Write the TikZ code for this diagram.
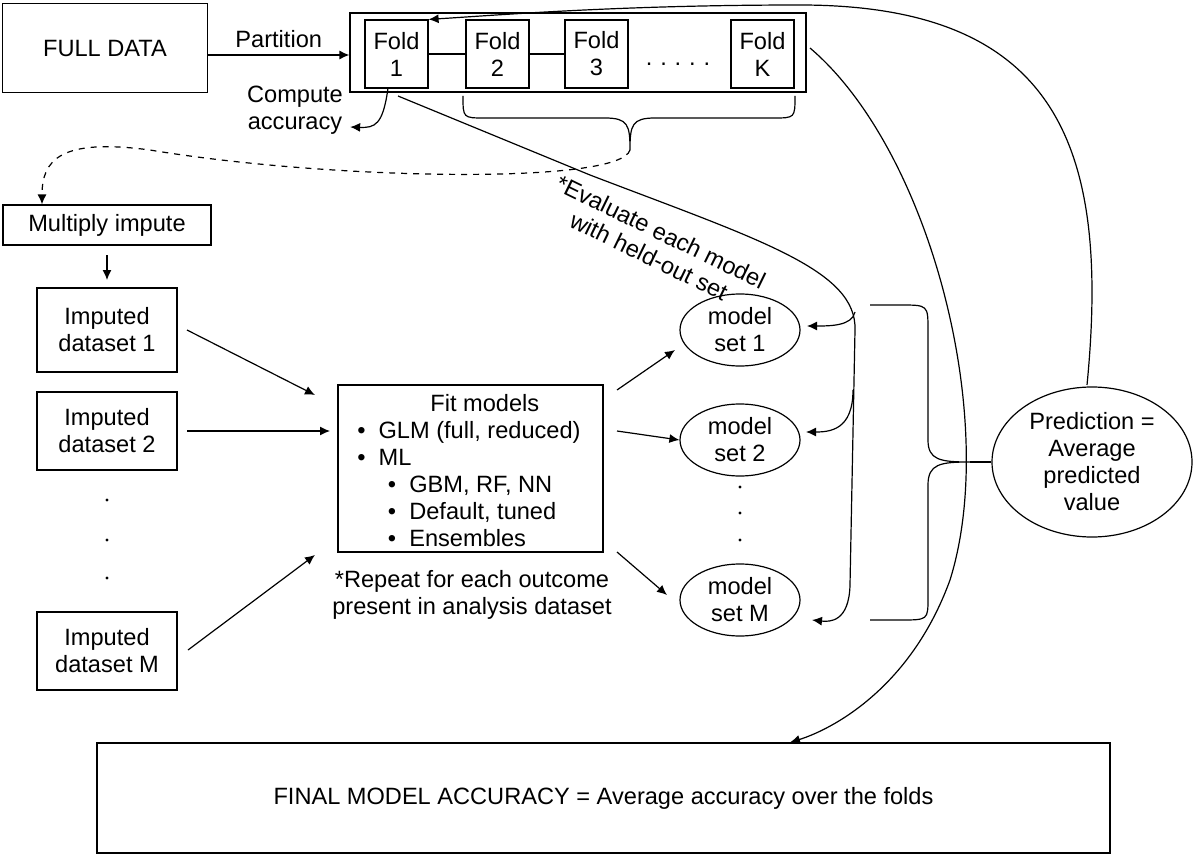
\documentclass[tikz,border=0pt]{standalone}
\usepackage{fontspec}
\setmainfont{Liberation Sans}
\usetikzlibrary{shapes.geometric,arrows.meta}

\begin{document}
\begin{tikzpicture}[x=0.5pt,y=-0.5pt,line width=0.6pt,
    font=\fontsize{11.8}{13.5}\selectfont,
    box/.style={draw, rectangle, inner sep=0pt, align=center},
    fold/.style={box, minimum width=31.5pt, minimum height=34pt},
    oval/.style={draw, ellipse, inner sep=0pt, align=center},
    arr/.style={-{Latex[length=5pt,width=4.5pt]}},
    vdots/.style={circle, fill, inner sep=0.6pt}]
    \useasboundingbox (0,0) rectangle (1200,856);

    % Top row
    \node[box, minimum width=102.5pt, minimum height=44.5pt] (fulldata) at (105,48) {FULL DATA};
    \node[box, minimum width=228pt, minimum height=39.5pt] (folds) at (578,52.5) {};
    \node[fold] (fold1) at (396.5,54) {Fold\\1};
    \node[fold] (fold2) at (497.5,54) {Fold\\2};
    \node[fold] (fold3) at (596.5,54) {Fold\\3};
    \node[fold] (foldK) at (762.5,54) {Fold\\K};
    \node (folddots) at (678,64) {.\,\,.\,\,.\,\,.\,\,.};
    \draw (fold1) -- (fold2);
    \draw (fold2) -- (fold3);
    \draw[arr] (fulldata.east |- 0,55) -- node[above] {Partition} (folds.west |- 0,55);

    \node[align=center] (compute) at (295,110) {Compute\\accuracy};
    \draw[arr] (388,88) .. controls (383,125) and (375,128) .. (compute.east |- 0,127);

    % Brace under folds 2..K
    \draw (463,96) .. controls (463,118) and (463,118) .. (485,118) -- (605,118)
        .. controls (628,118) and (630,125) .. (630,150) coordinate (bracetip)
        .. controls (630,125) and (632,118) .. (655,118) -- (773,118)
        .. controls (795,118) and (795,118) .. (795,96);

    % Left column
    \node[box, minimum width=104pt, minimum height=20pt] (impute) at (107,225) {Multiply impute};
    \draw[dashed, arr] (bracetip) .. controls (620,185) and (330,180) .. (150,150)
        .. controls (60,138) and (42,160) .. (impute.north -| 42,0);
    \node[box, minimum width=70pt, minimum height=42pt] (imp1) at (107,330) {Imputed\\dataset 1};
    \node[box, minimum width=70pt, minimum height=39pt] (imp2) at (107,431) {Imputed\\dataset 2};
    \node[box, minimum width=70pt, minimum height=39pt] (impM) at (107,651) {Imputed\\dataset M};
    \draw[arr] (107,255) -- (107,280);
    \foreach \y in {500,540,578} \node[vdots] (dot-imp-\y) at (107,\y) {};

    % Fit models
    \node[box, minimum width=132.5pt, minimum height=83.5pt] (fit) at (470.5,468.5) {};
    \node[align=left, anchor=north west] (fittext) at (350,387) {\hspace*{3.1em}Fit models\\
        \textbullet\ \ GLM (full, reduced)\\
        \textbullet\ \ ML\\
        \hspace*{1.3em}\textbullet\ \ GBM, RF, NN\\
        \hspace*{1.3em}\textbullet\ \ Default, tuned\\
        \hspace*{1.3em}\textbullet\ \ Ensembles};
    \node[align=center] (repeat) at (472,595) {*Repeat for each outcome\\present in analysis dataset};
    \draw[arr] (187,330) -- (315,395);
    \draw[arr] (187,431) -- (330,431);
    \draw[arr] (188,650) -- (315,555);

    % Model sets
    \node[oval, minimum width=60pt, minimum height=36pt] (ms1) at (740,330) {model\\set 1};
    \node[oval, minimum width=60pt, minimum height=36pt] (ms2) at (740,440) {model\\set 2};
    \node[oval, minimum width=60pt, minimum height=36pt] (msM) at (740,600) {model\\set M};
    \foreach \y in {487,513,540} \node[vdots] (dot-ms-\y) at (740,\y) {};
    \draw[arr] (617,390) -- (675,350);
    \draw[arr] (617,431) -- (ms2.west);
    \draw[arr] (617,552) -- (667,595);

    % Evaluate with held-out set
    \draw[arr] (398,96) -- (590,175) .. controls (760,240) and (857,270) .. (855,330)
        -- (850,585) .. controls (849,622) and (830,622) .. (812,620);
    \draw[arr] (855,312) .. controls (852,326) and (830,326) .. (807,326);
    \draw[arr] (853,390) .. controls (853,430) and (830,432) .. (806,432);
    \node[align=center, rotate=-26] (evaltext) at (655,244) {*Evaluate each model\\with held-out set};

    % Right brace and prediction
    \node[oval, minimum width=100pt, minimum height=75pt] (pred) at (1092,462) {Prediction =\\Average\\predicted\\value};
    \draw (870,305) -- (900,305) .. controls (928,305) and (928,305) .. (928,330) -- (928,440)
        .. controls (928,460) and (940,462) .. (970,462) coordinate (predtip)
        .. controls (940,462) and (928,464) .. (928,485) -- (928,598)
        .. controls (928,620) and (928,620) .. (900,620) -- (870,620);
    \draw (predtip) -- (pred.west);
    \draw[arr] (1087,385) .. controls (1110,150) and (1060,5) .. (800,5)
        .. controls (620,5) and (500,15) .. (fold1.north east);

    % Final accuracy
    \node[box, minimum width=506.5pt, minimum height=55pt] (final) at (603.5,798) {FINAL MODEL ACCURACY = Average accuracy over the folds};
    \draw[arr] (810,48) .. controls (930,150) and (1000,420) .. (950,580)
        .. controls (910,690) and (830,730) .. (final.north -| 790,0);
\end{tikzpicture}
\end{document}
